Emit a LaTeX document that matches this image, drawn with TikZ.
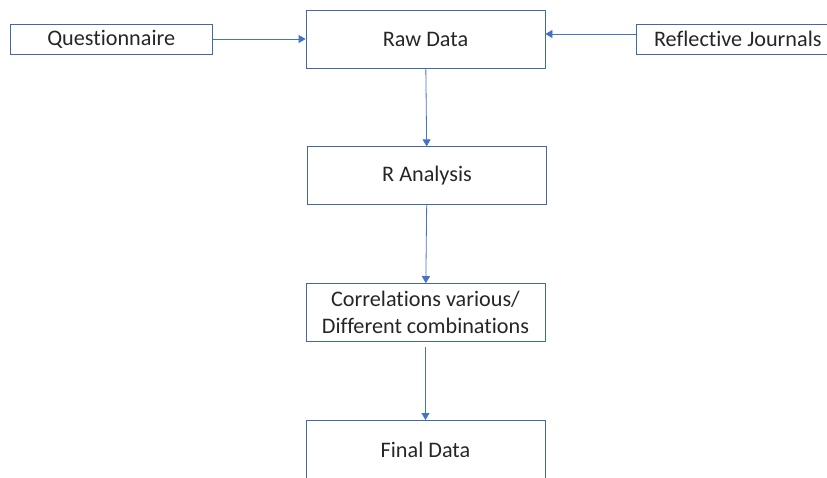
\documentclass[tikz,border=0pt]{standalone}
\usepackage{fontspec}
\setmainfont{Carlito}[Ligatures=NoCommon]
\usetikzlibrary{arrows.meta, positioning}
\definecolor{boxblue}{RGB}{65,105,170}
\definecolor{lineblue}{RGB}{68,114,196}

\begin{document}
\begin{tikzpicture}[x=1pt, y=-1pt, node distance=78pt and 93pt,
    stage/.style={rectangle, draw=boxblue, thick, text=black!85, minimum width=239pt, minimum height=58pt, align=center, font=\fontsize{22.2}{27}\selectfont},
    source/.style={rectangle, draw=boxblue, thick, text=black!85, minimum width=202pt, minimum height=30pt, font=\fontsize{22.2}{27}\selectfont},
    flow/.style={draw=lineblue, thick, -{Triangle[width=8pt, length=7pt]}}]
    \useasboundingbox (0,0) rectangle (827,477);
    \node [stage] (raw) at (425.5,39) {Raw Data};
    \node [source, left=93pt of raw] (quest) {Questionnaire};
    \node [source, right=91pt of raw] (refl) {Reflective Journals};
    \node [stage, below=of raw, xshift=1.5pt] (rana) {R Analysis};
    \node [stage, below=of rana, xshift=-1.5pt] (corr) {Correlations various/\\Different combinations};
    \node [stage, below=of corr] (final) {Final Data};
    \path [flow] (quest) -- (raw);
    \path [flow] ([yshift=5pt]refl.west) -- ([yshift=5pt]raw.east);
    \path [flow] (raw) -- (rana);
    \path [flow] (rana) -- (corr);
    \path [flow] ([yshift=-5pt]corr.south) -- (final);
\end{tikzpicture}
\end{document}
